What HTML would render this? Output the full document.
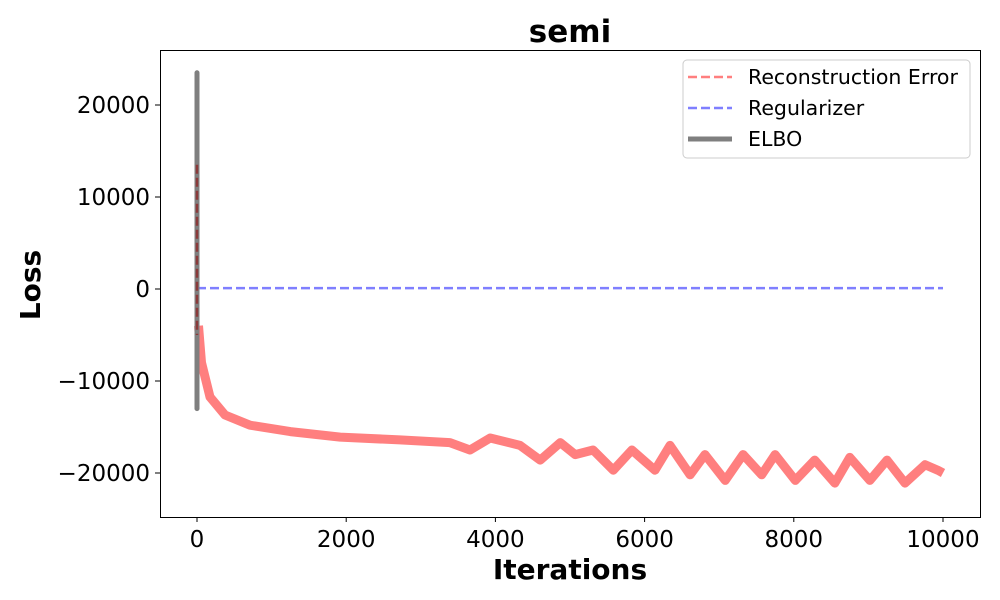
<!DOCTYPE html>
<html><head><meta charset="utf-8"><style>
body{margin:0;background:#fff;font-family:"DejaVu Sans","Liberation Sans",sans-serif}
svg{display:block}
</style></head><body>
<svg id="chart" width="1000" height="600" viewBox="0 0 1000 600">
<text x="570" y="42" text-anchor="middle" font-size="31" font-weight="bold">semi</text>
<text x="570" y="579" text-anchor="middle" font-size="28" font-weight="bold">Iterations</text>
<text transform="translate(40,285) rotate(-90)" text-anchor="middle" font-size="28" font-weight="bold">Loss</text>
<g id="ticks"></g>
<g id="series"></g>
<rect x="160.5" y="50.5" width="820" height="467" fill="none" stroke="#000" stroke-width="1"/>
<g>
<rect x="683" y="60" width="287" height="98" rx="4" fill="#fff" fill-opacity="0.8" stroke="#ccc"/>
<g><line x1="688" y1="77" x2="732" y2="77" stroke="#ff7f7f" stroke-width="2.5" stroke-dasharray="9,4"/><text x="748" y="84" font-size="20.5">Reconstruction Error</text></g>
<g><line x1="688" y1="108" x2="732" y2="108" stroke="#7f7fff" stroke-width="2.5" stroke-dasharray="9,4"/><text x="748" y="115" font-size="20.5">Regularizer</text></g>
<g><line x1="688" y1="139" x2="732" y2="139" stroke="#7f7f7f" stroke-width="5"/><text x="748" y="146" font-size="20.5">ELBO</text></g>
</g>
</svg>
<script>
const xTicks=[0,2000,4000,6000,8000,10000];
const yTicks=[-20000,-10000,0,10000,20000];
const reconIters=[0,20,60,174,375,710,1250,1920,2720,3390,3660,3930,4330,4600,4870,5070,5310,5580,5830,6140,6340,6610,6810,7080,7320,7570,7750,8020,8280,8550,8750,9020,9250,9490,9760,9930,10000];
const reconLoss=[13500,-4000,-8000,-11740,-13700,-14800,-15500,-16100,-16400,-16700,-17500,-16200,-17000,-18600,-16700,-18000,-17500,-19700,-17500,-19700,-17000,-20200,-18000,-20800,-18000,-20200,-18000,-20800,-18600,-21100,-18300,-20800,-18600,-21100,-19100,-19700,-20000];
const regIters=[0,10000];
const regLoss=[100,100];
const elboIters=[0,0];
const elboLoss=[23500,-13000];
const sx=v=>197+v*(943-197)/10000;
const sy=v=>289-v*(289-105)/20000;
const NS="http://www.w3.org/2000/svg";
const tg=document.getElementById('ticks'), sg=document.getElementById('series');
function mk(tag,attrs,parent){const e=document.createElementNS(NS,tag);for(const k in attrs)e.setAttribute(k,attrs[k]);parent.appendChild(e);return e;}
const fmt=v=>(v<0?"\u2212":"")+Math.abs(v);
xTicks.forEach(v=>{
 const l=mk('line',{x1:sx(v),x2:sx(v),y1:517,y2:522,stroke:'#000'},tg);
 
 
 const t=mk('text',{x:sx(v),y:547,'text-anchor':'middle','font-size':23},tg);t.textContent=fmt(v);
 
 
});
yTicks.forEach(v=>{
 const l=mk('line',{x1:155,x2:160,y1:sy(v),y2:sy(v),stroke:'#000'},tg);
 
 
 const t=mk('text',{x:150,y:sy(v)+8,'text-anchor':'end','font-size':23},tg);t.textContent=fmt(v);
 
 
});
const pts=(xs,ys)=>xs.map((x,i)=>sx(x).toFixed(1)+','+sy(ys[i]).toFixed(1)).join(' ');
const rb=mk('polyline',{points:pts(reconIters.slice(1),reconLoss.slice(1)),fill:'none',stroke:'#ff7f7f','stroke-width':9,'stroke-linejoin':'round'},sg);


const rg=mk('polyline',{points:pts(regIters,regLoss),fill:'none',stroke:'#7f7fff','stroke-width':2.5,'stroke-dasharray':'9,4'},sg);


const el=mk('polyline',{points:pts(elboIters,elboLoss),fill:'none',stroke:'#7f7f7f','stroke-width':5,'stroke-linecap':'round'},sg);


const rd=mk('polyline',{points:pts([0,0],[reconLoss[0],-5000]),fill:'none',stroke:'#8b3a3a','stroke-width':2.5,'stroke-dasharray':'9,4'},sg);


</script>
</body></html>
